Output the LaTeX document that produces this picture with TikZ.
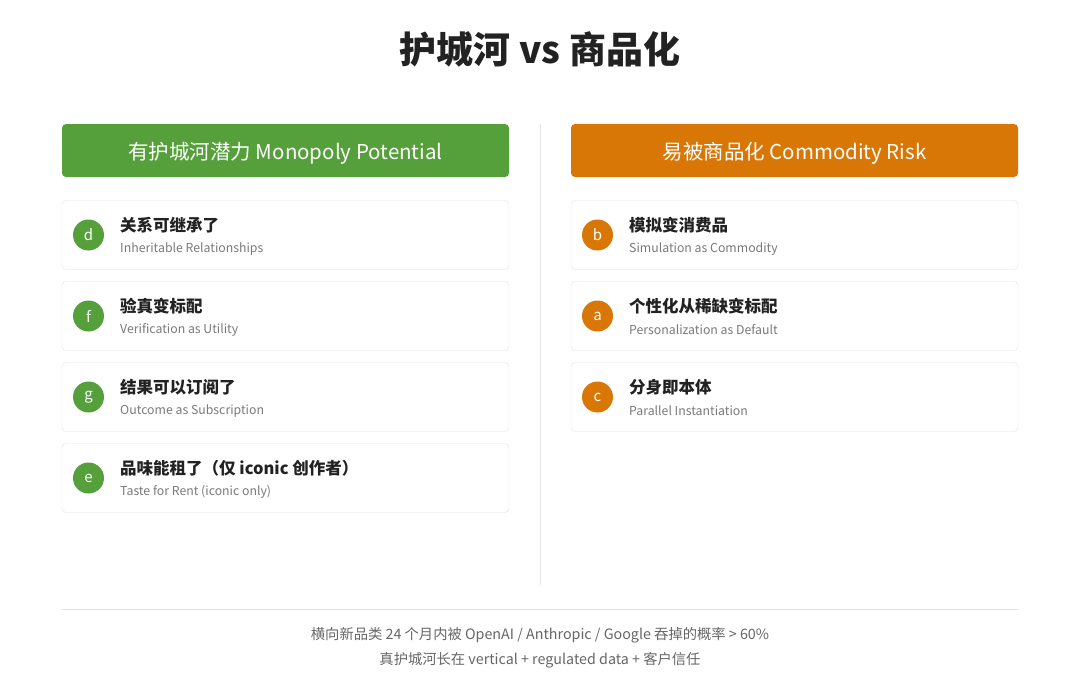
\documentclass[tikz,border=0pt]{standalone}
\usepackage{fontspec}
\setmainfont{Noto Sans CJK SC}
\usetikzlibrary{positioning}

\definecolor{moatgreen}{HTML}{55A03B}
\definecolor{riskorange}{HTML}{D97706}
\definecolor{titlegray}{HTML}{222222}
\definecolor{subgray}{HTML}{7A7A7A}
\definecolor{footgray}{HTML}{666666}
\definecolor{cardline}{HTML}{E2E2E2}
\definecolor{rulegray}{HTML}{E4E4E4}

\begin{document}
\begin{tikzpicture}[
    x=1pt, y=-1pt,
    card/.style={draw=cardline, fill=white, rounded corners=4pt, minimum width=447pt, minimum height=69pt, inner sep=0pt},
    header/.style={rounded corners=4pt, minimum width=447pt, minimum height=53pt, text=white, font=\fontsize{20.5}{24}\selectfont},
    badge/.style={circle, minimum size=31pt, inner sep=0pt, text=white, font=\fontsize{15}{16}\selectfont},
    cardtitle/.style={anchor=west, inner sep=0pt, text=titlegray, font=\bfseries\fontsize{16.5}{20}\selectfont},
    cardsub/.style={anchor=west, inner sep=0pt, text=subgray, font=\fontsize{12.3}{15}\selectfont},
    foot/.style={inner sep=0pt, text=footgray, font=\fontsize{14.3}{16}\selectfont}
]
\useasboundingbox (0,0) rectangle (1080,694);

% Title
\node[font=\bfseries\fontsize{37}{42}\selectfont, text=titlegray] (title) at (540,49) {护城河 vs 商品化};

% Headers
\node[header, fill=moatgreen, text depth=0pt] (moat) at (285.5,150.5) {有护城河潜力 Monopoly Potential};
\node[header, fill=riskorange, text depth=0pt] (risk) at (794.5,150.5) {易被商品化 Commodity Risk};

% Divider
\coordinate (divtop) at (540,124);
\coordinate (divbot) at (540,585);
\draw[rulegray, line width=1pt] (divtop) -- (divbot);

% Left column
\node[card] (d) at (285.5,235) {};
\node[badge, fill=moatgreen] (d-badge) at (88.5,235) {d};
\node[cardtitle] (d-title) at (120,225) {关系可继承了};
\node[cardsub] (d-sub) at (120,249) {Inheritable Relationships};

\node[card] (f) at (285.5,316) {};
\node[badge, fill=moatgreen] (f-badge) at (88.5,316) {f};
\node[cardtitle] (f-title) at (120,306) {验真变标配};
\node[cardsub] (f-sub) at (120,330) {Verification as Utility};

\node[card] (g) at (285.5,397) {};
\node[badge, fill=moatgreen] (g-badge) at (88.5,397) {g};
\node[cardtitle] (g-title) at (120,387) {结果可以订阅了};
\node[cardsub] (g-sub) at (120,411) {Outcome as Subscription};

\node[card] (e) at (285.5,478) {};
\node[badge, fill=moatgreen] (e-badge) at (88.5,478) {e};
\node[cardtitle] (e-title) at (120,468) {品味能租了（仅 iconic 创作者）};
\node[cardsub] (e-sub) at (120,492) {Taste for Rent (iconic only)};

% Right column
\node[card] (b) at (794.5,235) {};
\node[badge, fill=riskorange] (b-badge) at (597.5,235) {b};
\node[cardtitle] (b-title) at (629,225) {模拟变消费品};
\node[cardsub] (b-sub) at (629,249) {Simulation as Commodity};

\node[card] (a) at (794.5,316) {};
\node[badge, fill=riskorange] (a-badge) at (597.5,316) {a};
\node[cardtitle] (a-title) at (629,306) {个性化从稀缺变标配};
\node[cardsub] (a-sub) at (629,330) {Personalization as Default};

\node[card] (c) at (794.5,397) {};
\node[badge, fill=riskorange] (c-badge) at (597.5,397) {c};
\node[cardtitle] (c-title) at (629,387) {分身即本体};
\node[cardsub] (c-sub) at (629,411) {Parallel Instantiation};

% Footer
\coordinate (footl) at (62,609);
\coordinate (footr) at (1018,609);
\draw[rulegray, line width=1pt] (footl) -- (footr);
\node[foot] (note1) at (540,635) {横向新品类 24 个月内被 OpenAI / Anthropic / Google 吞掉的概率 > 60\%};
\node[foot] (note2) at (540,660) {真护城河长在 vertical + regulated data + 客户信任};

\end{tikzpicture}
\end{document}
